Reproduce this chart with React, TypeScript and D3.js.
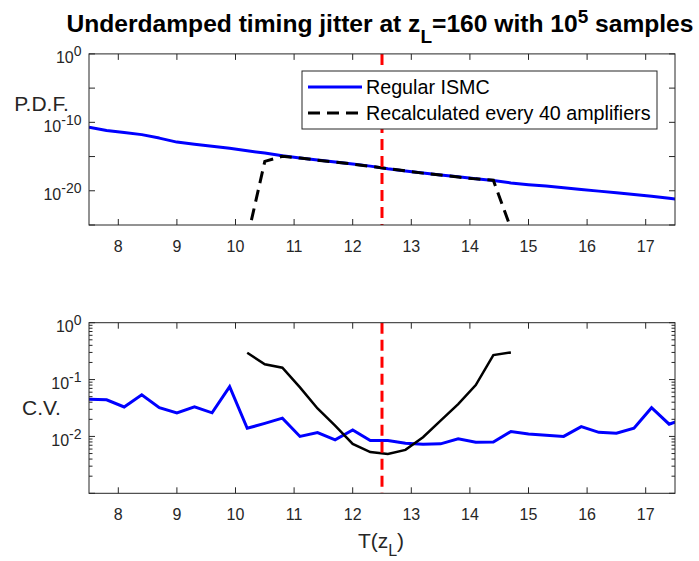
import React from "react";
import * as d3 from "d3";

// ---- data ----
const tRegular = [7.5, 7.8, 8.1, 8.4, 8.7, 9.0, 9.3, 9.6, 9.9, 10.2, 10.5, 10.8, 11.1, 11.4, 11.7, 12.0, 12.3, 12.6, 12.9, 13.2, 13.5, 13.8, 14.1, 14.4, 14.7, 15.0, 15.3, 15.6, 15.9, 16.2, 16.5, 16.8, 17.1, 17.4, 17.7];
const pdfRegular = [1.9e-11, 6.3e-12, 3.2e-12, 1.6e-12, 5.0e-13, 1.3e-13, 6.3e-14, 3.2e-14, 1.6e-14, 7.1e-15, 3.2e-15, 1.3e-15, 6.3e-16, 3.2e-16, 1.6e-16, 7.9e-17, 4.0e-17, 1.6e-17, 7.9e-18, 4.0e-18, 2.0e-18, 1.1e-18, 5.6e-19, 3.2e-19, 1.4e-19, 7.9e-20, 5.0e-20, 2.8e-20, 1.6e-20, 8.9e-21, 5.0e-21, 2.8e-21, 1.6e-21, 7.9e-22, 4.0e-22];
const cvRegular = [0.045, 0.044, 0.033, 0.054, 0.032, 0.026, 0.033, 0.026, 0.075, 0.0139, 0.017, 0.021, 0.010, 0.0117, 0.0087, 0.013, 0.0085, 0.0085, 0.0076, 0.0073, 0.0074, 0.0091, 0.0079, 0.008, 0.0122, 0.011, 0.0105, 0.0100, 0.0149, 0.0118, 0.0114, 0.0139, 0.032, 0.0164, 0.021];

const tRecalc = [10.2, 10.5, 10.8, 11.1, 11.4, 11.7, 12.0, 12.3, 12.6, 12.9, 13.2, 13.5, 13.8, 14.1, 14.4, 14.7];
const pdfRecalc = [1e-27, 2.0e-16, 1.1e-15, 6.0e-16, 3.0e-16, 1.5e-16, 8.0e-17, 3.8e-17, 1.7e-17, 8.0e-18, 3.8e-18, 2.0e-18, 1.0e-18, 5.5e-19, 3.5e-19, 3e-26];
const cvRecalc = [0.297, 0.186, 0.162, 0.073, 0.031, 0.0155, 0.0074, 0.0053, 0.0049, 0.0058, 0.0097, 0.019, 0.037, 0.080, 0.27, 0.30];

const zTarget = 12.5;
const xTicks = [8, 9, 10, 11, 12, 13, 14, 15, 16, 17];
const topYTickExps = [0, -5, -10, -15, -20, -25];
const topYLabelExps = [0, -10, -20];
const botYTickExps = [0, -1, -2, -3];
const botYLabelExps = [0, -1, -2];
const legendLabels = ["Regular ISMC", "Recalculated every 40 amplifiers"];

// ---- layout ----
const W = 699, H = 561;
const L = 89, R = 675;
const topT = 53.9, topB = 225;
const botT = 322.7, botB = 493.3;
const AX = "#262626";
const FONT = "'Liberation Sans', Arial, Helvetica, sans-serif";
const TICK = 6;

const x = d3.scaleLinear().domain([7.5, 17.5]).range([L, R]);
const yTop = d3.scaleLog().domain([1e-25, 1]).range([topB, topT]);
const yBot = d3.scaleLog().domain([1e-3, 1]).range([botB, botT]);

function Frame({ y, top, bottom, majorExps, labelExps, minor }: any) {
  const minorVals: number[] = [];
  if (minor) {
    for (let e = -3; e < 0; e++) for (let m = 2; m <= 9; m++) minorVals.push(m * Math.pow(10, e));
  }
  return (
    <g>
      <rect x={L} y={top} width={R - L} height={bottom - top} fill="white" />
      {xTicks.map((t) => (
        <g key={"xt" + t}>
          <line x1={x(t)} x2={x(t)} y1={bottom} y2={bottom - TICK} stroke={AX} />
          <line x1={x(t)} x2={x(t)} y1={top} y2={top + TICK} stroke={AX} />
          <text x={x(t)} y={bottom + 26.5} textAnchor="middle" fontSize={16} fill={AX} fontFamily={FONT}>{t}</text>
        </g>
      ))}
      {majorExps.map((e: number) => {
        const yy = y(Math.pow(10, e));
        return (
          <g key={"yt" + e}>
            <line x1={L} x2={L + TICK} y1={yy} y2={yy} stroke={AX} />
            <line x1={R} x2={R - TICK} y1={yy} y2={yy} stroke={AX} />
          </g>
        );
      })}
      {minorVals.map((v) => {
        const yy = y(v);
        return (
          <g key={"mt" + v}>
            <line x1={L} x2={L + 3.5} y1={yy} y2={yy} stroke={AX} />
            <line x1={R} x2={R - 3.5} y1={yy} y2={yy} stroke={AX} />
          </g>
        );
      })}
      {labelExps.map((e: number) => {
        const yy = y(Math.pow(10, e));
        return (
          <text key={"yl" + e} x={81.5} y={yy + 9.4} textAnchor="end" fontSize={16} fill={AX} fontFamily={FONT}>
            10<tspan fontSize={14} dy={-7}>{e === 0 ? "0" : "-" + Math.abs(e)}</tspan>
          </text>
        );
      })}
    </g>
  );
}

export default function App() {
  const lineTop = d3.line<number>().x((_, i) => x(tRegular[i])).y((d) => yTop(d));
  const lineTopR = d3.line<number>().x((_, i) => x(tRecalc[i])).y((d) => yTop(d));
  const lineBot = d3.line<number>().x((_, i) => x(tRegular[i])).y((d) => yBot(d));
  const lineBotR = d3.line<number>().x((_, i) => x(tRecalc[i])).y((d) => yBot(d));

  return (
    <svg width={W} height={H} style={{ position: "absolute", left: 0, top: 0, background: "white" }} fontFamily={FONT}>
      <defs>
        <clipPath id="clipTop"><rect x={L} y={topT} width={R - L} height={topB - topT} /></clipPath>
        <clipPath id="clipBot"><rect x={L} y={botT} width={R - L} height={botB - botT} /></clipPath>
      </defs>
      <rect x={0} y={0} width={W} height={H} fill="white" />

      {/* Top panel */}
      <Frame y={yTop} top={topT} bottom={topB} majorExps={topYTickExps} labelExps={topYLabelExps} minor={false} />
      <g clipPath="url(#clipTop)">
        <path d={lineTop(pdfRegular) || ""} fill="none" stroke="#0000ff" strokeWidth={3} strokeLinejoin="round" />
        <path d={lineTopR(pdfRecalc) || ""} fill="none" stroke="#000" strokeWidth={3} strokeDasharray="12,7" />
        <line x1={x(zTarget)} x2={x(zTarget)} y1={topT} y2={topB} stroke="#ff0000" strokeWidth={3} strokeDasharray="11,6" />
      </g>
      <rect x={L} y={topT} width={R - L} height={topB - topT} fill="none" stroke={AX} strokeWidth={1} />

      {/* Legend */}
      <rect x={302} y={71} width={355} height={58} fill="white" stroke={AX} strokeWidth={1} />
      <line x1={308} x2={362} y1={87} y2={87} stroke="#0000ff" strokeWidth={3} />
      <line x1={308} x2={362} y1={113} y2={113} stroke="#000" strokeWidth={3} strokeDasharray="12,7" />
      <text x={366} y={93.5} fontSize={19.7} fill="#000">{legendLabels[0]}</text>
      <text x={366} y={119.5} fontSize={19.7} fill="#000">{legendLabels[1]}</text>

      {/* Bottom panel */}
      <Frame y={yBot} top={botT} bottom={botB} majorExps={botYTickExps} labelExps={botYLabelExps} minor={true} />
      <g clipPath="url(#clipBot)">
        <path d={lineBot(cvRegular) || ""} fill="none" stroke="#0000ff" strokeWidth={3} strokeLinejoin="miter" />
        <path d={lineBotR(cvRecalc) || ""} fill="none" stroke="#000" strokeWidth={2.5} />
        <line x1={x(zTarget)} x2={x(zTarget)} y1={botT} y2={botB} stroke="#ff0000" strokeWidth={3} strokeDasharray="11,6" />
      </g>
      <rect x={L} y={botT} width={R - L} height={botB - botT} fill="none" stroke={AX} strokeWidth={1} />

      {/* Labels */}
      <text x={41.5} y={110.7} textAnchor="middle" fontSize={21} fill={AX}>P.D.F.</text>
      <text x={41.5} y={415} textAnchor="middle" fontSize={21} fill={AX}>C.V.</text>
      <text x={381} y={548} textAnchor="middle" fontSize={21} fill={AX}>
        T(z<tspan fontSize={16} dy={8}>L</tspan><tspan dy={-8}>)</tspan>
      </text>
      <text x={380} y={32.3} textAnchor="middle" fontSize={24.6} fontWeight="bold" fill="#000">
        Underdamped timing jitter at z<tspan fontSize={19} dy={10.5}>L</tspan>
        <tspan dy={-10.5}>=160 with 10</tspan><tspan fontSize={19} dy={-9.5}>5</tspan>
        <tspan dy={9.5}> samples</tspan>
      </text>
    </svg>
  );
}
